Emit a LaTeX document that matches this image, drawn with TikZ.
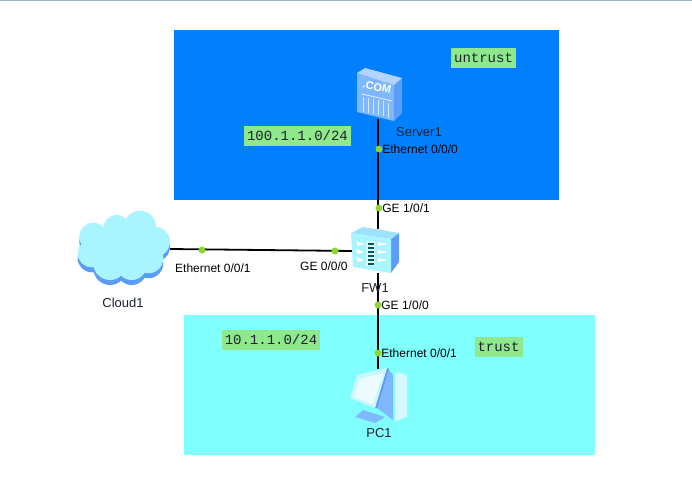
\documentclass[tikz,border=0pt]{standalone}
\usepackage{fontspec}
\setmainfont{Liberation Sans}
\setmonofont{Liberation Mono}
\usetikzlibrary{positioning}
\definecolor{untrustblue}{HTML}{0080FF}
\definecolor{trustcyan}{HTML}{80FFFF}
\definecolor{tagbg}{HTML}{90E88C}
\definecolor{portdot}{HTML}{8CD62E}
\definecolor{textdark}{HTML}{1A2230}
\definecolor{topline}{HTML}{A0B0C4}
\definecolor{iconpale}{HTML}{D8F8FF}
\definecolor{iconlight}{HTML}{A8F4FF}
\definecolor{iconmid}{HTML}{80B8FF}
\definecolor{icondeep}{HTML}{5C9CF8}
\begin{document}
\begin{tikzpicture}[
  x=1pt, y=-1pt,
  zone/.style={draw=none, inner sep=0pt, anchor=north west},
  tag/.style={fill=tagbg, font=\ttfamily\fontsize{14}{14}\selectfont, text=textdark, inner xsep=3pt, inner ysep=0pt, minimum height=20pt},
  device/.style={draw=none, inner sep=0pt},
  port/.style={circle, fill=portdot, inner sep=0pt, minimum size=7pt},
  devlabel/.style={font=\fontsize{13}{14}\selectfont, text=textdark, inner sep=0pt},
  ifname/.style={font=\fontsize{12}{14}\selectfont, text=black, inner sep=0pt, anchor=west},
  link/.style={draw=black, line width=1.8pt},
]
\useasboundingbox (0,0) rectangle (692,483);
\fill[topline] (0,0) rectangle (692,1.2);

% zones
\node[zone, fill=untrustblue, minimum width=385pt, minimum height=170pt] (untrust) at (174,30) {};
\node[zone, fill=trustcyan, minimum width=411pt, minimum height=140pt] (trust) at (184,315) {};
\node[tag] (tagunt) at (483.5,58) {untrust};
\node[tag] (tagtru) at (498.5,347) {trust};
\node[tag] (netunt) at (297.5,135.5) {100.1.1.0/24};
\node[tag] (nettru) at (271,339.5) {10.1.1.0/24};

% devices, icons come after the links
\node[device, minimum width=44pt, minimum height=50pt] (server) at (378,94) {};
\node[device, minimum width=48pt, minimum height=44pt] (fw) at (378,251) {};
\node[device, minimum width=60pt, minimum height=66pt] (pc) at (378,402) {};
\node[device, minimum width=92pt, minimum height=76pt] (cloud) at (124,249) {};

\draw[link] (server) -- (fw);
\draw[link] (fw) -- (pc);
\draw[link] (cloud.east) -- (fw.west);

% server icon
\fill[icondeep] (394,85) -- (402,78) -- (402,113) -- (394,121) -- cycle;
\fill[iconmid] (357,73) -- (394,85) -- (394,121) -- (357,112) -- cycle;
\fill[iconmid!60!white] (357,73) -- (365,68) -- (402,78) -- (394,85) -- cycle;
\node[rotate=-12, font=\bfseries\fontsize{11}{11}\selectfont, text=white, inner sep=0pt] (comtxt) at (377,87) {.COM};
\draw[white!80!iconmid, line width=.8pt] (362,94) -- (392,101);
\foreach \px in {363,368,...,388} {
  \draw[white!70!iconmid, line width=.7pt] (\px,{97+(\px-363)*.22}) -- (\px,{112+(\px-363)*.22});
}

% firewall icon
\fill[icondeep] (391,239) -- (399,233) -- (399,262) -- (391,273) -- cycle;
\fill[iconlight!70!iconmid] (351,233) -- (363,227) -- (399,233) -- (391,239) -- cycle;
\fill[iconlight] (351,233) -- (391,239) -- (391,273) -- (353,267) -- cycle;
\foreach \py in {241,249,257} {
  \fill[white] (356,\py) -- (364,{\py+3}) -- (358,{\py+5}) -- cycle;
  \fill[white] (378,{\py+1}) -- (388,{\py+3}) -- (378,{\py+5}) -- cycle;
}
\fill[iconpale] (366,241) rectangle (375,266);
\foreach \py in {243,247,...,263} {
  \fill[teal!70!black] (367.5,\py) rectangle (373.5,{\py+2});
}

% pc icon
\fill[iconmid] (363,410) -- (355,417) -- (375,423) -- (385,417) -- cycle;
\fill[iconpale] (395,372) -- (407,375) -- (407,417) -- (395,421) -- cycle;
\fill[iconmid] (387,368) -- (393,375) -- (393,420) -- (377,408) -- cycle;
\fill[icondeep] (387,368) -- (389,369) -- (377,408) -- (375,408) -- cycle;
\fill[iconlight!60!white] (387,368) -- (357,375) -- (350,398) -- (375,408) -- cycle;
\fill[iconpale!50!white] (383,373) -- (360,379) -- (354,397) -- (373,404) -- cycle;

% cloud icon
\foreach \cx/\cy/\cr in {93.3/236.7/14,116.7/228.3/13.3,140/226.7/16,155/241.7/15,91.7/253.3/14,110/263.3/16.7,131.7/265/15,148.3/258.3/15,123.3/246.7/26.7} {
  \fill[icondeep] (\cx,\cy+5) circle[radius=\cr];
}
\foreach \cx/\cy/\cr in {93.3/236.7/14,116.7/228.3/13.3,140/226.7/16,155/241.7/15,91.7/253.3/14,110/263.3/16.7,131.7/265/15,148.3/258.3/15,123.3/246.7/26.7} {
  \fill[iconlight] (\cx,\cy) circle[radius=\cr];
}

% port dots
\node[port] (p1) at (379,149) {};
\node[port] (p2) at (379,208) {};
\node[port] (p3) at (378,305) {};
\node[port] (p4) at (378,353) {};
\node[port] (p5) at (202,250) {};
\node[port] (p6) at (335,251) {};

% labels
\node[devlabel] (lblserver) at (419,132) {Server1};
\node[devlabel] (lblfw) at (375,288) {FW1};
\node[devlabel] (lblpc) at (379,433) {PC1};
\node[devlabel] (lblcloud) at (123,303) {Cloud1};
\node[ifname, right=-0.5pt of p1] (if1) {Ethernet 0/0/0};
\node[ifname, right=-0.5pt of p2] (if2) {GE 1/0/1};
\node[ifname, right=-0.5pt of p3] (if3) {GE 1/0/0};
\node[ifname, right=-0.5pt of p4] (if4) {Ethernet 0/0/1};
\node[ifname] (if5) at (175,268) {Ethernet 0/0/1};
\node[ifname] (if6) at (300,266) {GE 0/0/0};
\end{tikzpicture}
\end{document}
